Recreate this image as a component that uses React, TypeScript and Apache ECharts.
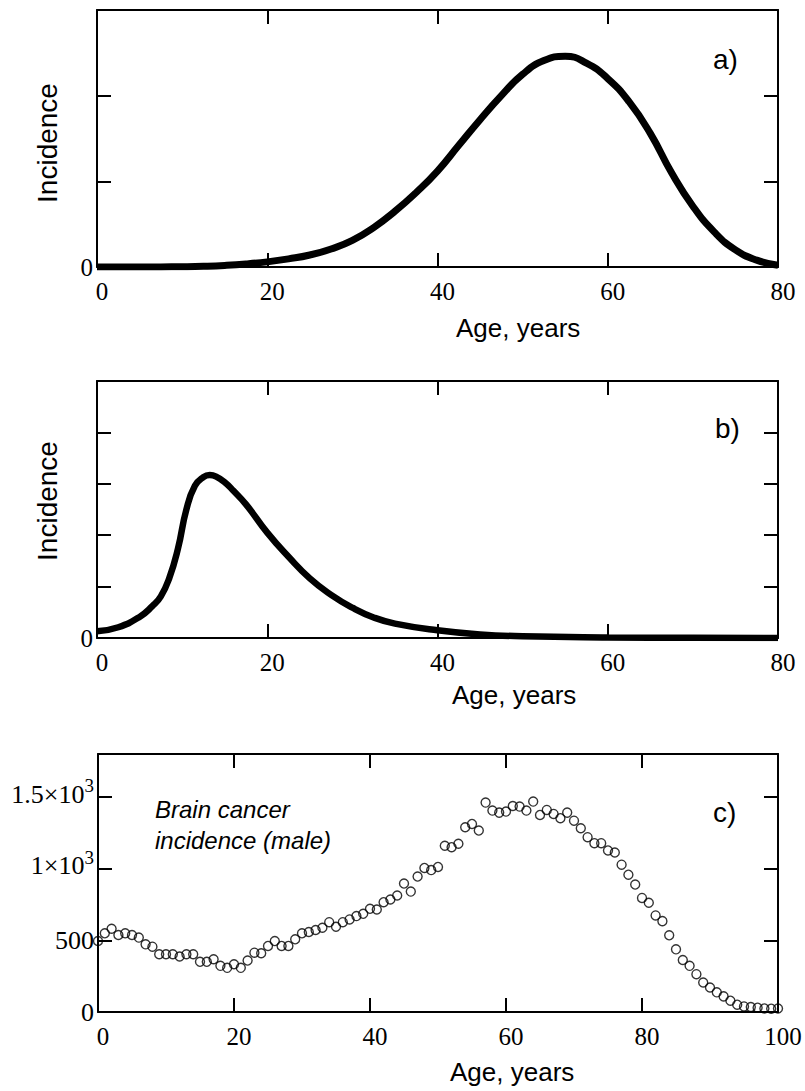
import React, { useEffect, useRef } from 'react';
import * as echarts from 'echarts';

// Panel a) model incidence curve (read off the picture)
const agesA = [0, 2.5, 5, 7.5, 10, 12.5, 15, 17.5, 20, 22.5, 25, 27.5, 30, 32.5, 35, 37.5, 40, 42.5, 45, 47.5, 50, 52.5, 55, 57.5, 60, 62.5, 65, 67.5, 70, 72.5, 75, 77.5, 80];
const incidenceA = [0, 0, 0, 0.001, 0.003, 0.008, 0.018, 0.035, 0.06, 0.095, 0.14, 0.21, 0.31, 0.46, 0.65, 0.87, 1.12, 1.42, 1.72, 2.0, 2.25, 2.41, 2.46, 2.38, 2.2, 1.93, 1.56, 1.1, 0.71, 0.41, 0.2, 0.08, 0.02];

// Panel b) model incidence curve (read off the picture)
const agesB = [0, 2.5, 5, 6.5, 7.5, 8.5, 9.5, 10.5, 11.5, 12.5, 13.25, 14, 15, 16, 17.5, 20, 22.5, 25, 27.5, 30, 32.5, 35, 40, 45, 50, 60, 70, 80];
const incidenceB = [0.13, 0.21, 0.41, 0.62, 0.81, 1.17, 1.73, 2.5, 2.96, 3.13, 3.17, 3.14, 3.03, 2.87, 2.6, 2.05, 1.58, 1.16, 0.84, 0.59, 0.4, 0.28, 0.15, 0.07, 0.035, 0.012, 0.004, 0];

// Panel c) brain cancer incidence (male), ages 0..100
const brainIncidence = [
  495, 549, 581, 537, 549, 537, 519, 472, 456, 403,
  403, 403, 387, 403, 403, 350, 350, 368, 322, 308,
  333, 308, 359, 414, 410, 461, 495, 461, 461, 507,
  549, 558, 572, 588, 627, 595, 627, 646, 669, 685,
  720, 715, 766, 785, 813, 896, 840, 945, 1005, 990,
  1012, 1160, 1150, 1174, 1289, 1312, 1266, 1461, 1405, 1391,
  1398, 1437, 1433, 1405, 1468, 1375, 1410, 1382, 1352, 1391,
  1335, 1282, 1220, 1178, 1178, 1127, 1113, 1028, 958, 889,
  796, 762, 674, 634, 535, 437, 363, 322, 264, 206,
  171, 137, 109, 79, 51, 39, 35, 30, 25, 23,
  25,
];

const xTicksAB = [0, 20, 40, 60, 80];
const xTicksC = [0, 20, 40, 60, 80, 100];
const yTickLabelsC: Record<number, string> = {
  0: '0',
  500: '500',
  1000: '{n|1×10}{s|3}',
  1500: '{n|1.5×10}{s|3}',
};

const SERIF = '"Liberation Serif", "Times New Roman", serif';
const SANS = '"Liberation Sans", Arial, sans-serif';

export default function App() {
  const ref = useRef<HTMLDivElement>(null);

  useEffect(() => {
    if (!ref.current) return;
    const chart = echarts.init(ref.current, undefined, { renderer: 'svg' });

    const line = { lineStyle: { color: '#000', width: 2 } };
    const tick = { show: true, inside: true, length: 14, lineStyle: { color: '#000', width: 2 } };

    const xBottom = (gridIndex: number, max: number, ticks: number[]) => ({
      type: 'value',
      gridIndex,
      position: 'bottom',
      min: 0,
      max,
      interval: 20,
      axisLine: { show: true, onZero: false, ...line },
      axisTick: tick,
      splitLine: { show: false },
      axisLabel: {
        show: true,
        color: '#000',
        fontFamily: SERIF,
        fontSize: 25,
        margin: 12,
        padding: [0, 0, 0, 10],
        formatter: (v: number) => (ticks.includes(v) ? String(v) : ''),
      },
    });
    const xTop = (gridIndex: number, max: number) => ({
      type: 'value',
      gridIndex,
      position: 'top',
      min: 0,
      max,
      interval: 20,
      axisLine: { show: true, onZero: false, ...line },
      axisTick: tick,
      splitLine: { show: false },
      axisLabel: { show: false },
    });
    const yLeft = (gridIndex: number, max: number, interval: number, fmt: (v: number) => string, fontSize: number) => ({
      type: 'value',
      gridIndex,
      position: 'left',
      min: 0,
      max,
      interval,
      axisLine: { show: true, onZero: false, ...line },
      axisTick: tick,
      splitLine: { show: false },
      axisLabel: {
        show: true,
        color: '#000',
        fontFamily: SERIF,
        fontSize,
        margin: 4,
        formatter: fmt,
        rich: {
          n: { fontFamily: SERIF, fontSize: 26, color: '#000', lineHeight: 26, padding: [0, 0, 6, 0] },
          s: { fontFamily: SERIF, fontSize: 19, color: '#000', lineHeight: 19, padding: [0, 0, 23, 0] },
        },
      },
    });
    const yRight = (gridIndex: number, max: number, interval: number) => ({
      type: 'value',
      gridIndex,
      position: 'right',
      min: 0,
      max,
      interval,
      axisLine: { show: true, onZero: false, ...line },
      axisTick: tick,
      splitLine: { show: false },
      axisLabel: { show: false },
    });

    const text = (t: string, x: number, y: number, font: string, extra: any = {}) => ({
      type: 'text',
      x,
      y,
      rotation: extra.rotation || 0,
      style: {
        text: t,
        font,
        fill: '#000',
        textAlign: extra.align || 'left',
        textVerticalAlign: 'middle',
      },
    });

    const option: any = {
      animation: false,
      backgroundColor: '#fff',
      grid: [
        { left: 97, top: 10, width: 681, height: 257 },
        { left: 97, top: 381, width: 681, height: 257 },
        { left: 98, top: 754, width: 680, height: 258 },
      ],
      xAxis: [
        xBottom(0, 80, xTicksAB),
        xTop(0, 80),
        xBottom(1, 80, xTicksAB),
        xTop(1, 80),
        xBottom(2, 100, xTicksC),
        xTop(2, 100),
      ],
      yAxis: [
        yLeft(0, 3, 1, (v) => (v === 0 ? '0' : ''), 25),
        yRight(0, 3, 1),
        yLeft(1, 5, 1, (v) => (v === 0 ? '0' : ''), 25),
        yRight(1, 5, 1),
        yLeft(2, 1800, 500, (v) => yTickLabelsC[v] ?? '', 26),
        yRight(2, 1800, 500),
      ],
      series: [
        {
          type: 'line',
          xAxisIndex: 0,
          yAxisIndex: 0,
          data: agesA.map((a, i) => [a, incidenceA[i]]),
          smooth: 0.5,
          showSymbol: false,
          lineStyle: { color: '#000', width: 7 },
        },
        {
          type: 'line',
          xAxisIndex: 2,
          yAxisIndex: 2,
          data: agesB.map((a, i) => [a, incidenceB[i]]),
          smooth: 0.5,
          showSymbol: false,
          lineStyle: { color: '#000', width: 6.5 },
        },
        {
          type: 'scatter',
          xAxisIndex: 4,
          yAxisIndex: 4,
          data: brainIncidence.map((v, age) => [age, v]),
          symbol: 'circle',
          symbolSize: 9,
          itemStyle: { color: 'rgba(0,0,0,0)', borderColor: '#000', borderWidth: 1.4 },
        },
      ],
      graphic: [
        text('a)', 713, 59, `28px ${SANS}`),
        text('b)', 715, 428, `28px ${SANS}`),
        text('c)', 713, 812, `28px ${SANS}`),
        text('Incidence', 47, 143, `28px ${SANS}`, { rotation: Math.PI / 2, align: 'center' }),
        text('Incidence', 47, 501, `28px ${SANS}`, { rotation: Math.PI / 2, align: 'center' }),
        text('Age, years', 456, 328, `26px ${SANS}`),
        text('Age, years', 452, 695, `26px ${SANS}`),
        text('Age, years', 450, 1072, `26px ${SANS}`),
        text('Brain cancer', 155, 809, `italic 24px ${SANS}`),
        text('incidence (male)', 155, 840, `italic 24px ${SANS}`),
      ],
    };

    chart.setOption(option);
    return () => chart.dispose();
  }, []);

  return (
    <div
      ref={ref}
      style={{ position: 'absolute', left: 0, top: 0, width: 805, height: 1091, background: '#fff' }}
    />
  );
}
